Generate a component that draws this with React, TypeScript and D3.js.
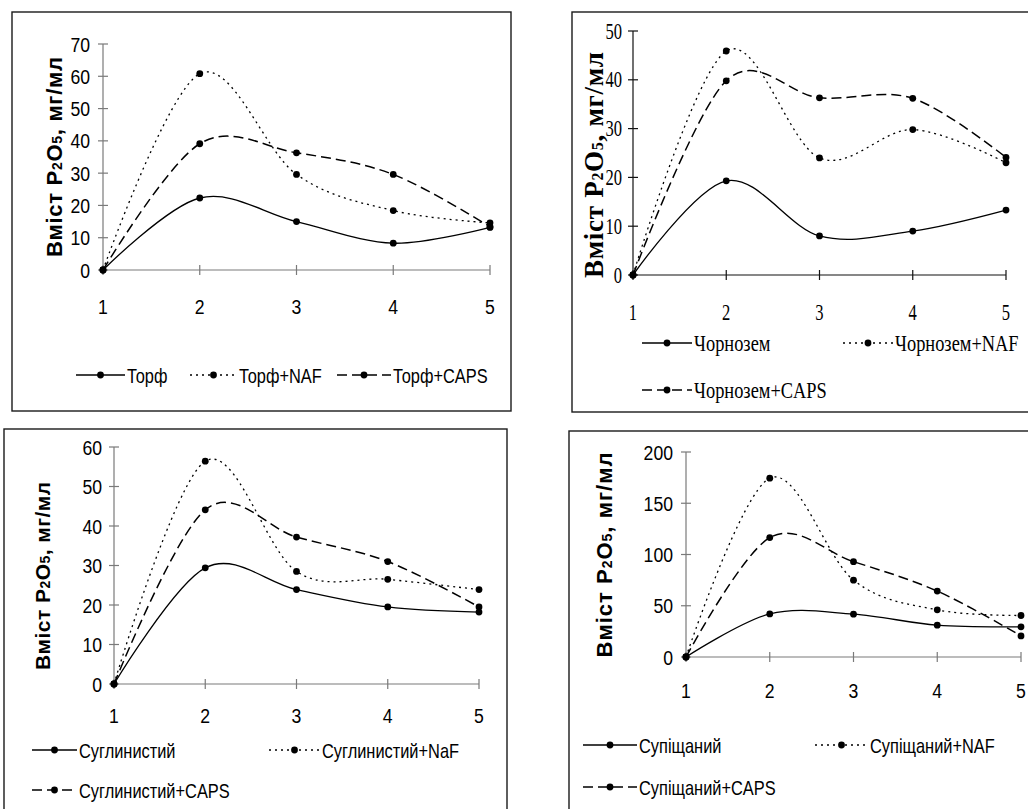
import React from "react";
import * as d3 from "d3";

// x categories shared by all panels
const xCats = [1, 2, 3, 4, 5];

// Panel 1 – Торф
const torf = [0, 22.3, 15.0, 8.3, 13.2];
const torfNaf = [0, 60.8, 29.6, 18.4, 14.6];
const torfCaps = [0, 39.1, 36.3, 29.6, 13.4];
const torfTicks = [0, 10, 20, 30, 40, 50, 60, 70];

// Panel 2 – Чорнозем
const chorn = [0, 19.3, 8.0, 9.0, 13.3];
const chornNaf = [0, 45.9, 24.0, 29.8, 23.0];
const chornCaps = [0, 39.8, 36.3, 36.2, 24.1];
const chornTicks = [0, 10, 20, 30, 40, 50];

// Panel 3 – Суглинистий
const sug = [0, 29.4, 23.9, 19.5, 18.2];
const sugNaf = [0, 56.4, 28.5, 26.5, 23.9];
const sugCaps = [0, 44.1, 37.2, 31.0, 19.5];
const sugTicks = [0, 10, 20, 30, 40, 50, 60];

// Panel 4 – Супіщаний
const sup = [0, 42.0, 41.8, 31.0, 29.4];
const supNaf = [0, 174.5, 75.0, 46.0, 40.5];
const supCaps = [0, 116.5, 93.0, 64.3, 20.6];
const supTicks = [0, 50, 100, 150, 200];

type Style = "solid" | "dot" | "dash";

const dashFor: Record<Style, string | undefined> = {
  solid: undefined,
  dot: "2,4",
  dash: "10,5",
};

const SANS = "'Liberation Sans', Arial, sans-serif";
const SERIF = "'Liberation Serif', 'Times New Roman', serif";

function T(props: {
  x: number;
  y: number;
  size: number;
  sx: number;
  font: string;
  anchor?: string;
  children: React.ReactNode;
}) {
  return (
    <text
      transform={`translate(${props.x},${props.y}) scale(${props.sx},1)`}
      fontSize={props.size}
      fontFamily={props.font}
      textAnchor={props.anchor || "start"}
      fill="#000"
    >
      {props.children}
    </text>
  );
}

interface PanelProps {
  box: [number, number, number, number];
  px: [number, number];
  py: [number, number];
  yMax: number;
  ticks: number[];
  series: { name: string; values: number[]; style: Style }[];
  legend: { x: number; y: number; len: number }[];
  serif?: boolean;
  axisColor: string;
  title: { x: number; cy: number; len: number; size: number };
  tickY: number;
  labelGap: number;
}

function Panel(p: PanelProps) {
  const font = p.serif ? SERIF : SANS;
  const x = d3.scaleLinear().domain([1, 5]).range(p.px);
  const y = d3.scaleLinear().domain([0, p.yMax]).range(p.py);
  const line = d3
    .line<number>()
    .x((_, i) => x(xCats[i]))
    .y((d) => y(d))
    .curve(d3.curveCardinal.tension(0));
  const tickSize = p.serif ? 23 : 21;
  const tickSx = p.serif ? 0.72 : 0.84;
  const legSize = p.serif ? 23 : 20;
  const legSx = p.serif ? 0.8 : 0.82;
  const [bx, by, bw, bh] = p.box;
  const sub = p.serif ? 16 : 14;
  return (
    <g>
      <rect x={bx} y={by} width={bw} height={bh} fill="#fff" stroke="#1a1a1a" strokeWidth={1.4} />
      {/* axes */}
      <line x1={p.px[0]} x2={p.px[1]} y1={y(0)} y2={y(0)} stroke={p.axisColor} strokeWidth={1.2} />
      <line x1={p.px[0]} x2={p.px[0]} y1={y(0)} y2={y(p.yMax)} stroke={p.axisColor} strokeWidth={1.2} />
      {p.ticks.map((t) => (
        <g key={"y" + t}>
          <line x1={p.px[0] - 5} x2={p.px[0] + 5} y1={y(t)} y2={y(t)} stroke={p.axisColor} strokeWidth={1.2} />
          <T x={p.px[0] - p.labelGap} y={y(t) + 7.5} size={tickSize} sx={tickSx} font={font} anchor="end">
            {t}
          </T>
        </g>
      ))}
      {xCats.map((c) => (
        <g key={"x" + c}>
          <line x1={x(c)} x2={x(c)} y1={y(0) - 5} y2={y(0) + 5} stroke={p.axisColor} strokeWidth={1.2} />
          <T x={x(c)} y={p.tickY} size={tickSize} sx={tickSx} font={font} anchor="middle">
            {c}
          </T>
        </g>
      ))}
      {/* series */}
      {p.series.map((s) => (
        <g key={s.name}>
          <path
            d={line(s.values) || ""}
            fill="none"
            stroke="#000"
            strokeWidth={s.style === "dash" ? 1.5 : 1.3}
            strokeDasharray={dashFor[s.style]}
          />
          {s.values.map((v, i) => (
            <circle key={i} cx={x(xCats[i])} cy={y(v)} r={3.4} fill="#000" />
          ))}
        </g>
      ))}
      {/* legend */}
      {p.series.map((s, i) => {
        const l = p.legend[i];
        return (
          <g key={"l" + s.name}>
            <line
              x1={l.x}
              x2={l.x + l.len}
              y1={l.y}
              y2={l.y}
              stroke="#000"
              strokeWidth={1.3}
              strokeDasharray={dashFor[s.style]}
            />
            <circle cx={l.x + l.len / 2} cy={l.y} r={3.4} fill="#000" />
            <T x={l.x + l.len + 2} y={l.y + 7.5} size={legSize} sx={legSx} font={font}>
              {s.name}
            </T>
          </g>
        );
      })}
      {/* y title */}
      <text
        transform={`translate(${p.title.x},${p.title.cy}) rotate(-90)`}
        textAnchor="middle"
        fontFamily={font}
        fontWeight="bold"
        fontSize={p.title.size}
        textLength={p.title.len}
        lengthAdjust="spacing"
      >
        Вміст Р<tspan fontSize={sub}>2</tspan>О<tspan fontSize={sub}>5</tspan>, мг/мл
      </text>
    </g>
  );
}

export default function App() {
  return (
    <svg
      width={1028}
      height={809}
      style={{ position: "absolute", left: 0, top: 0, background: "#fff" }}
    >
      <Panel
        box={[12, 12, 499, 399]}
        px={[103, 490]}
        py={[270, 44]}
        yMax={70}
        ticks={torfTicks}
        axisColor="#7a7a7a"
        tickY={314}
        labelGap={13}
        series={[
          { name: "Торф", values: torf, style: "solid" },
          { name: "Торф+NAF", values: torfNaf, style: "dot" },
          { name: "Торф+CAPS", values: torfCaps, style: "dash" },
        ]}
        legend={[
          { x: 76, y: 375, len: 49 },
          { x: 190, y: 375, len: 47 },
          { x: 337, y: 375, len: 54 },
        ]}
        title={{ x: 62, cy: 157, len: 200, size: 22 }}
      />
      <Panel
        box={[572, 12, 470, 400]}
        px={[633, 1006]}
        py={[275, 31]}
        yMax={50}
        ticks={chornTicks}
        axisColor="#111"
        tickY={320}
        labelGap={11}
        serif
        series={[
          { name: "Чорнозем", values: chorn, style: "solid" },
          { name: "Чорнозем+NAF", values: chornNaf, style: "dot" },
          { name: "Чорнозем+CAPS", values: chornCaps, style: "dash" },
        ]}
        legend={[
          { x: 642, y: 343, len: 50 },
          { x: 843, y: 343, len: 50 },
          { x: 642, y: 390, len: 50 },
        ]}
        title={{ x: 603, cy: 165, len: 226, size: 27 }}
      />
      <Panel
        box={[4, 429, 503, 400]}
        px={[114, 479]}
        py={[684, 447]}
        yMax={60}
        ticks={sugTicks}
        axisColor="#7a7a7a"
        tickY={723}
        labelGap={12}
        series={[
          { name: "Суглинистий", values: sug, style: "solid" },
          { name: "Суглинистий+NaF", values: sugNaf, style: "dot" },
          { name: "Суглинистий+CAPS", values: sugCaps, style: "dash" },
        ]}
        legend={[
          { x: 32, y: 750, len: 45 },
          { x: 269, y: 750, len: 51 },
          { x: 32, y: 790, len: 45 },
        ]}
        title={{ x: 50, cy: 576, len: 188, size: 21 }}
      />
      <Panel
        box={[569, 431, 470, 400]}
        px={[686, 1021]}
        py={[657, 452]}
        yMax={200}
        ticks={supTicks}
        axisColor="#7a7a7a"
        tickY={698}
        labelGap={13}
        series={[
          { name: "Супіщаний", values: sup, style: "solid" },
          { name: "Супіщаний+NAF", values: supNaf, style: "dot" },
          { name: "Супіщаний+CAPS", values: supCaps, style: "dash" },
        ]}
        legend={[
          { x: 583, y: 745, len: 54 },
          { x: 815, y: 745, len: 53 },
          { x: 583, y: 787, len: 54 },
        ]}
        title={{ x: 612, cy: 555, len: 205, size: 22 }}
      />
    </svg>
  );
}
